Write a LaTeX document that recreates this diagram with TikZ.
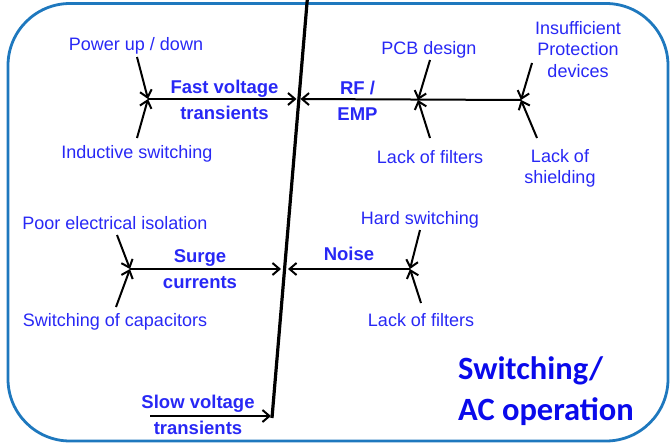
\documentclass[tikz,border=0pt]{standalone}
\usepackage{fontspec}
\setmainfont{Liberation Sans}
\newfontfamily\titlefont{Carlito}
\usetikzlibrary{arrows.meta}
\definecolor{lblblue}{RGB}{40,40,245}
\definecolor{ttlblue}{RGB}{10,10,235}
\definecolor{frameblue}{RGB}{30,120,190}
\begin{document}
\begin{tikzpicture}[x=1pt,y=-1pt,
  lbl/.style={text=lblblue,font=\fontsize{18}{20}\selectfont,inner sep=0pt,anchor=base,align=center},
  blbl/.style={lbl,font=\bfseries\fontsize{18.5}{25.5}\selectfont},
  bone/.style={line width=2pt,-{Straight Barb[length=7pt,width=12pt]}},
  spinestyle/.style={line width=3.2pt},
  frame/.style={draw=frameblue,line width=2.8pt,rounded corners=62pt}
]
\useasboundingbox (0,0) rectangle (671,444);
\draw[frame] (8,3.5) rectangle (668,441);

% spine
\coordinate (spT) at (307.5,-3);
\coordinate (spB) at (272,418);
\draw[spinestyle] (spT) -- (spB);

% junctions and tips
\coordinate (fvJ) at (148,99);
\coordinate (fvT) at (296.5,99);
\coordinate (rfT) at (300.5,99);
\coordinate (rfM) at (418,100);
\coordinate (rfE) at (521,100);
\coordinate (sgJ) at (130,269);
\coordinate (sgT) at (281,269);
\coordinate (nsT) at (288,269);
\coordinate (nsE) at (410,269);
\coordinate (swS) at (150,416);
\coordinate (swT) at (271,416);

% free ends of cause arrows
\coordinate (pwrS) at (137,57);
\coordinate (indS) at (137,138);
\coordinate (pcbS) at (430,60);
\coordinate (lf1S) at (430,138);
\coordinate (insS) at (532,63);
\coordinate (shS) at (537,138);
\coordinate (peiS) at (117,235);
\coordinate (capS) at (116,307);
\coordinate (hsS) at (420,230);
\coordinate (lf2S) at (421,303);

% main bones
\draw[bone] (fvJ) -- (fvT);
\draw[bone] (rfE) -- (rfT);
\draw[bone] (sgJ) -- (sgT);
\draw[bone] (nsE) -- (nsT);
\draw[bone] (swS) -- (swT);

% cause arrows
\draw[bone] (pwrS) -- (fvJ);
\draw[bone] (indS) -- (fvJ);
\draw[bone] (pcbS) -- (rfM);
\draw[bone] (lf1S) -- (rfM);
\draw[bone] (insS) -- (rfE);
\draw[bone] (shS) -- (rfE);
\draw[bone] (peiS) -- (sgJ);
\draw[bone] (capS) -- (sgJ);
\draw[bone] (hsS) -- (nsE);
\draw[bone] (lf2S) -- (nsE);

% labels (base = baseline of the last line)
\node[lbl] (pwr) at (136,50) {Power up / down};
\node[lbl] (ind) at (137,158) {Inductive switching};
\node[blbl] (fv) at (224.5,119) {Fast voltage\\transients};
\node[blbl] (rf) at (357.5,120) {RF /\\EMP};
\node[lbl] (pcb) at (429,55) {PCB design};
\node[lbl] (lf1) at (430,163) {Lack of filters};
\node[lbl,font=\fontsize{18}{21}\selectfont] (ins) at (578,77) {Insufficient\\Protection\\devices};
\node[lbl,font=\fontsize{18}{20.5}\selectfont] (sh) at (560,183) {Lack of\\shielding};
\node[lbl] (pei) at (115,229) {Poor electrical isolation};
\node[blbl] (sg) at (200,288) {Surge\\currents};
\node[lbl] (cap) at (115,326) {Switching of capacitors};
\node[blbl] (ns) at (349,260) {Noise};
\node[lbl] (hs) at (420,224) {Hard switching};
\node[lbl] (lf2) at (421,326) {Lack of filters};
\node[blbl] (sw) at (198,434) {Slow voltage\\transients};
\node[text=ttlblue,font=\titlefont\bfseries\fontsize{32.5}{41}\selectfont,anchor=base west,align=left,inner sep=0pt] (ttl) at (458,420) {Switching/\\AC operation};
\end{tikzpicture}
\end{document}
